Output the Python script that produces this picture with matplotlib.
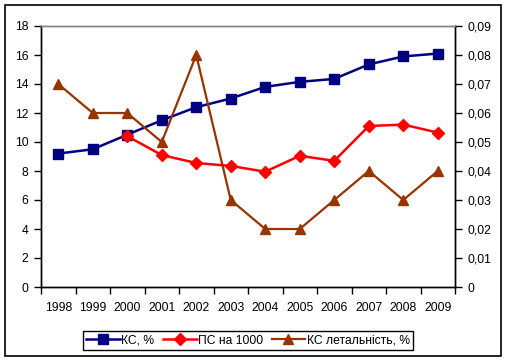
import matplotlib
matplotlib.use("Agg")
import matplotlib.pyplot as plt
from matplotlib.patches import Rectangle
from matplotlib.ticker import FixedLocator, FuncFormatter
import numpy as np

years = ["1998", "1999", "2000", "2001", "2002", "2003", "2004", "2005", "2006", "2007", "2008", "2009"]
ks = [9.2, 9.5, 10.5, 11.5, 12.4, 13.0, 13.8, 14.15, 14.35, 15.35, 15.9, 16.1]
ps = [np.nan, np.nan, 10.4, 9.1, 8.55, 8.35, 7.95, 9.05, 8.7, 11.1, 11.2, 10.65]
ks_let = [0.07, 0.06, 0.06, 0.05, 0.08, 0.03, 0.02, 0.02, 0.03, 0.04, 0.03, 0.04]
labels = ["КС, %", "ПС на 1000", "КС летальність, %"]

plt.rcParams['font.family'] = ['Liberation Sans', 'DejaVu Sans']
FS = 8.7
plt.rcParams['font.size'] = FS

fig = plt.figure(figsize=(5.08, 3.62), dpi=100)
W, H = 508, 362
ax = fig.add_axes([41 / W, 1 - 287 / H, (455 - 41) / W, (287 - 26) / H])
ax2 = ax.twinx()

x = np.arange(len(years))
navy = "#000080"
red = "#FF0000"
brown = "#993300"

l1, = ax.plot(x, ks, color=navy, lw=1.8, marker="s", ms=7, mec=navy, mfc=navy, zorder=3)
l2, = ax.plot(x, ps, color=red, lw=1.8, marker="D", ms=6, mec=red, mfc=red, zorder=3)
l3, = ax2.plot(x, ks_let, color=brown, lw=1.6, marker="^", ms=7.5, mec=brown, mfc=brown, zorder=3)

ax.set_xlim(-0.5, len(years) - 0.5)
ax.set_ylim(0, 18)
ax2.set_ylim(0, 0.09)
ax.set_yticks(np.arange(0, 19, 2))
ax2.set_yticks(np.arange(0, 0.091, 0.01))
ax2.yaxis.set_major_formatter(FuncFormatter(lambda v, p: "0" if abs(v) < 1e-9 else ("%.2f" % v).replace(".", ",")))

ax.xaxis.set_major_locator(FixedLocator(np.arange(-0.5, len(years), 1.0)))
ax.xaxis.set_major_formatter(FuncFormatter(lambda v, p: ""))
ax.xaxis.set_minor_locator(FixedLocator(x))
ax.set_xticklabels(years, minor=True)
ax.tick_params(axis="x", which="major", direction="out", length=5, width=1, color="black")
ax.tick_params(axis="x", which="minor", length=0, pad=11, labelsize=FS)
ax.tick_params(axis="y", direction="out", length=5, width=1, pad=4, labelsize=FS)
ax2.tick_params(axis="y", direction="out", length=5, width=1, pad=4, labelsize=FS)

for a in (ax, ax2):
    a.spines["top"].set_color("#808080")
    a.spines["top"].set_linewidth(1)
    a.spines["left"].set_linewidth(1)
    a.spines["right"].set_linewidth(1)
    a.spines["bottom"].set_linewidth(1)
ax.patch.set_alpha(0)

leg = fig.legend([l1, l2, l3], labels, loc="center", bbox_to_anchor=(248 / W, 1 - 340.5 / H),
                 ncol=3, frameon=True, fancybox=False, edgecolor="black", framealpha=1,
                 handlelength=2.8, handletextpad=0.1, columnspacing=0.7, borderpad=0.3, fontsize=FS)
leg.get_frame().set_linewidth(1)

fig.patches.append(Rectangle((5 / W, 1 - 356 / H), (501 - 5) / W, (356 - 5) / H, transform=fig.transFigure,
                             fill=False, edgecolor="black", linewidth=1.2))

fig.savefig("out.png", dpi=100)
